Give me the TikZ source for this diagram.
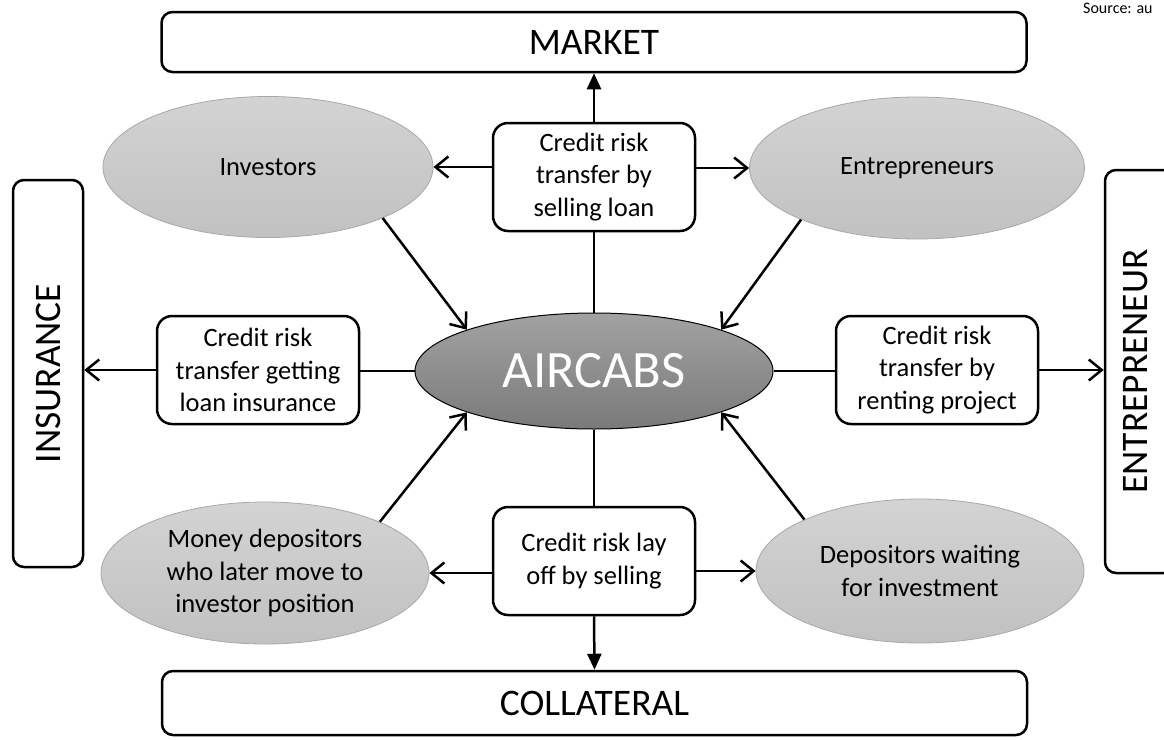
\documentclass[tikz,border=0pt]{standalone}
\usepackage{fontspec}
\setmainfont{Carlito}
\usepackage{graphicx}
\usetikzlibrary{arrows.meta,shapes.geometric}
\definecolor{elltop}{HTML}{D3D3D3}
\definecolor{ellbot}{HTML}{C1C1C1}
\definecolor{ellline}{HTML}{A8A8A8}
\definecolor{airtop}{HTML}{A2A2A2}
\definecolor{airbot}{HTML}{7A7A7A}
\tikzset{
 conn/.style={line width=2.5pt, draw=black},
 openarr/.style={-{Straight Barb[length=13pt,width=21pt]}},
 filledarr/.style={-{Triangle[length=16pt,width=14pt]}},
 bigbox/.style={draw, line width=2.5pt, rounded corners=11pt, inner sep=0pt, font=\fontsize{37.5}{44}\selectfont},
 riskbox/.style={draw, line width=2.5pt, rounded corners=15pt, minimum width=202pt, minimum height=108pt, inner sep=0pt, align=center, font=\fontsize{26.5}{32.5}\selectfont},
 actor/.style={ellipse, draw=ellline, line width=0.8pt, top color=elltop, bottom color=ellbot, inner sep=0pt, align=center, font=\fontsize{26.5}{32.5}\selectfont},
 hub/.style={ellipse, draw=black, line width=1pt, top color=airtop, bottom color=airbot, inner sep=0pt, text=white, font=\fontsize{52.5}{60}\selectfont},
}
\begin{document}
\begin{tikzpicture}[x=1pt,y=-1pt]
\useasboundingbox (0,0) rectangle (1164,739);
\clip (0,0) rectangle (1164,739);
% frame boxes
\node[bigbox, minimum width=865pt, minimum height=60pt] (market) at (594,42) {MARKET};
\node[bigbox, minimum width=865pt, minimum height=64pt] (collat) at (594.5,703) {COLLATERAL};
\node[bigbox, minimum width=70pt, minimum height=387pt] (insur) at (48,373.5) {\rotatebox{90}{INSURANCE}};
\node[bigbox, minimum width=70pt, minimum height=403pt] (entre) at (1140,371.5) {\rotatebox{90}{ENTREPRENEUR}\hspace*{8pt}};
% risk boxes
\node[riskbox] (sell) at (594,177) {Credit risk\\transfer by\\selling loan};
\node[riskbox] (getins) at (258,370) {Credit risk\\transfer getting\\loan insurance};
\node[riskbox] (rent) at (937,370) {Credit risk\\transfer by\\renting project};
\node[riskbox] (layoff) at (594,561) {Credit risk lay\\off by selling};
% ellipses
\node[actor, minimum width=330pt, minimum height=141pt] (inv) at (268,167) {Investors};
\node[actor, minimum width=335pt, minimum height=142pt] (ent) at (917,168) {Entrepreneurs};
\node[actor, minimum width=328pt, minimum height=142pt] (mon) at (265,573) {Money depositors\\who later move to\\investor position};
\node[actor, minimum width=328pt, minimum height=144pt] (dep) at (920,571) {Depositors waiting\\for investment};
\node[hub, minimum width=358pt, minimum height=116pt] (air) at (594,371) {AIRCABS};
% source note
\node[anchor=base west, font=\fontsize{16}{20}\selectfont, inner sep=0pt] (src) at (1083,13) {Source: au};
% connectors
\draw[conn] (air.north) -- (sell.south);
\draw[conn, filledarr] (sell.north) -- (market.south);
\draw[conn, openarr] (sell.west |- inv.east) -- (inv.east);
\draw[conn, openarr] (sell.east |- ent.west) -- (ent.west);
\draw[conn, openarr] (inv.-24) -- (air.162);
\draw[conn, openarr] (ent.204) -- (air.18);
\draw[conn, openarr] (mon.24) -- (air.198);
\draw[conn, openarr] (dep.156) -- (air.342);
\draw[conn] (air.west) -- (getins.east |- air.west);
\draw[conn, openarr] (getins.west) -- (insur.east |- getins.west);
\draw[conn] (air.east) -- (rent.west |- air.east);
\draw[conn, openarr] (rent.east) -- (entre.west |- rent.east);
\draw[conn] (air.south) -- (layoff.north);
\draw[conn, filledarr] (layoff.south) -- (collat.north);
\draw[conn, openarr] (layoff.west |- mon.east) -- (mon.east);
\draw[conn, openarr] (layoff.east |- dep.west) -- (dep.west);
\end{tikzpicture}
\end{document}
